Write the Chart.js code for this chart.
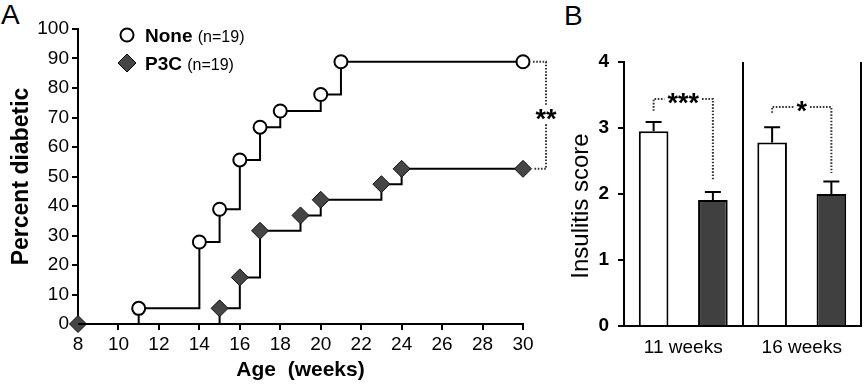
<!DOCTYPE html>
<html>
<head>
<meta charset="utf-8">
<script src="https://cdn.jsdelivr.net/npm/chart.js@4.4.0/dist/chart.umd.min.js"></script>
<style>
body { margin: 0; background: #fff; width: 864px; height: 384px; overflow: hidden; position: relative; font-family: "Liberation Sans", Arial, sans-serif; }
#wrapA { position: absolute; left: 0; top: 0; width: 560px; height: 384px; }
#wrapB { position: absolute; left: 560px; top: 0; width: 304px; height: 384px; }
.panel { position: absolute; font-size: 28px; line-height: 28px; color: #000; }
</style>
</head>
<body>
<div class="panel" style="left:1px;top:1px">A</div>
<div class="panel" style="left:564px;top:2px">B</div>
<div id="wrapA"><canvas id="chartA"></canvas></div>
<div id="wrapB"><canvas id="chartB"></canvas></div>
<script>
// panel A: percent diabetic by age
var weeksNone = [8, 11, 14, 15, 16, 17, 18, 20, 21, 30];
var pctNone = [0, 5.3, 27.8, 38.9, 55.6, 66.7, 72.2, 77.8, 88.9, 88.9];
var weeksP3C = [8, 15, 16, 17, 19, 20, 23, 24, 30];
var pctP3C = [0, 5.3, 15.8, 31.6, 36.8, 42.1, 47.4, 52.6, 52.6];

// panel B: insulitis score
var ageGroups = ['11 weeks', '16 weeks'];
var scoreNone = [2.95, 2.78];
var semNone = [0.14, 0.23];
var scoreP3C = [1.91, 2.0];
var semP3C = [0.12, 0.19];

var FONT = '"Liberation Sans", Arial, sans-serif';
Chart.defaults.font.family = FONT;
Chart.defaults.color = '#000';

function toPoints(xs, ys) {
	return xs.map(function(x, i) { return { x: x, y: ys[i] }; });
}

function dotted(ctx, pts) {
	ctx.save();
	ctx.strokeStyle = '#333';
	ctx.lineWidth = 2;
	ctx.setLineDash([1.6, 1.6]);
	ctx.beginPath();
	ctx.moveTo(pts[0][0], pts[0][1]);
	for (var i = 1; i < pts.length; i++) ctx.lineTo(pts[i][0], pts[i][1]);
	ctx.stroke();
	ctx.restore();
}

// legend + ** bracket for A
var extrasA = {
	id: 'extrasA',
	afterDraw: function(chart) {
		var ctx = chart.ctx;
		var x = chart.scales.x, y = chart.scales.y;
		ctx.save();
		// legend
		ctx.lineWidth = 2;
		ctx.strokeStyle = '#000';
		ctx.fillStyle = '#fff';
		ctx.beginPath();
		ctx.arc(127, 35, 6.5, 0, Math.PI * 2);
		ctx.fill();
		ctx.stroke();
		ctx.fillStyle = '#454545';
		ctx.lineWidth = 1;
		ctx.beginPath();
		ctx.moveTo(118, 63); ctx.lineTo(127, 54); ctx.lineTo(136, 63); ctx.lineTo(127, 72);
		ctx.closePath();
		ctx.fill();
		ctx.stroke();
		ctx.fillStyle = '#000';
		ctx.textBaseline = 'alphabetic';
		ctx.font = 'bold 19px ' + FONT;
		ctx.fillText('None', 145, 42);
		var w1 = ctx.measureText('None ').width;
		ctx.fillText('P3C', 145, 70);
		var w2 = ctx.measureText('P3C ').width;
		ctx.font = '16px ' + FONT;
		ctx.fillText('(n=19)', 145 + w1, 42);
		ctx.fillText('(n=19)', 145 + w2, 70);

		// significance bracket
		var px = x.getPixelForValue(30);
		var yTop = y.getPixelForValue(pctNone[pctNone.length - 1]);
		var yBot = y.getPixelForValue(pctP3C[pctP3C.length - 1]);
		var bx = px + 23;
		var mid = (yTop + yBot) / 2;
		dotted(ctx, [[px + 10, yTop], [bx, yTop], [bx, mid - 10]]);
		dotted(ctx, [[bx, mid + 9], [bx, yBot], [px + 10, yBot]]);
		ctx.font = 'bold 27px ' + FONT;
		ctx.textAlign = 'center';
		ctx.textBaseline = 'middle';
		ctx.fillText('**', bx, mid + 5);
		ctx.restore();
	}
};

var chartA = new Chart(document.getElementById('chartA'), {
	type: 'scatter',
	data: {
		datasets: [{
			label: 'None',
			data: toPoints(weeksNone, pctNone),
			showLine: true,
			stepped: true,
			borderColor: '#000',
			borderWidth: 2,
			pointStyle: 'circle',
			pointRadius: function(c) { return c.dataIndex === 0 ? 0 : 6.5; },
			pointBackgroundColor: '#fff',
			pointBorderColor: '#000',
			pointBorderWidth: 2,
			clip: false
		}, {
			label: 'P3C',
			data: toPoints(weeksP3C, pctP3C),
			showLine: true,
			stepped: true,
			borderColor: '#000',
			borderWidth: 2,
			pointStyle: 'rectRot',
			pointRadius: 8.5,
			pointBackgroundColor: '#454545',
			pointBorderColor: '#111',
			pointBorderWidth: 1,
			clip: false
		}]
	},
	options: {
		responsive: true,
		maintainAspectRatio: false,
		animation: false,
		layout: { padding: { left: 0, top: 29, right: 37, bottom: 0 } },
		plugins: { legend: { display: false }, tooltip: { enabled: false } },
		scales: {
			x: {
				type: 'linear', min: 8, max: 30,
				ticks: { stepSize: 2, font: { size: 19 }, padding: 3 },
				grid: { drawOnChartArea: false, color: '#000', lineWidth: 2, tickLength: 6 },
				border: { color: '#000', width: 2 },
				title: { display: true, text: 'Age  (weeks)', font: { size: 21, weight: 'bold' }, padding: { top: 0, bottom: 1 } },
				afterFit: function(s) { s.height = 60; }
			},
			y: {
				min: 0, max: 100,
				ticks: { stepSize: 10, font: { size: 19 }, padding: 3 },
				grid: { drawOnChartArea: false, color: '#000', lineWidth: 2, tickLength: 6 },
				border: { color: '#000', width: 2 },
				title: { display: true, text: 'Percent diabetic', font: { size: 23, weight: 'bold' }, padding: { top: 8, bottom: 0 } },
				afterFit: function(s) { s.width = 78; }
			}
		}
	},
	plugins: [extrasA]
});

// error bars, brackets and y title for B
var extrasB = {
	id: 'extrasB',
	afterDatasetsDraw: function(chart) {
		var ctx = chart.ctx;
		var y = chart.scales.y;
		var errs = [semNone, semP3C];
		ctx.save();
		ctx.strokeStyle = '#000';
		ctx.lineWidth = 2;
		chart.data.datasets.forEach(function(ds, d) {
			chart.getDatasetMeta(d).data.forEach(function(bar, i) {
				var top = y.getPixelForValue(ds.data[i] + errs[d][i]);
				ctx.beginPath();
				ctx.moveTo(bar.x, bar.y);
				ctx.lineTo(bar.x, top);
				ctx.moveTo(bar.x - 8, top);
				ctx.lineTo(bar.x + 8, top);
				ctx.stroke();
			});
		});

		// significance brackets
		var marks = ['***', '*'];
		var levels = [[3.26, 3.44, 2.21], [3.23, 3.32, 2.32]];
		var a = chart.getDatasetMeta(0).data, b = chart.getDatasetMeta(1).data;
		ctx.font = 'bold 27px ' + FONT;
		ctx.textAlign = 'center';
		ctx.textBaseline = 'middle';
		ctx.fillStyle = '#000';
		for (var i = 0; i < marks.length; i++) {
			var x1 = a[i].x, x2 = b[i].x, cx = (x1 + x2) / 2;
			var yl = y.getPixelForValue(levels[i][0]);
			var yt = y.getPixelForValue(levels[i][1]);
			var yr = y.getPixelForValue(levels[i][2]);
			var half = ctx.measureText(marks[i]).width / 2 + 3;
			dotted(ctx, [[x1, yl], [x1, yt], [cx - half, yt]]);
			dotted(ctx, [[cx + half, yt], [x2, yt], [x2, yr]]);
			ctx.fillText(marks[i], cx, yt + 6);
		}

		// y axis title, sits a little below the plot centre
		ctx.translate(21, 206);
		ctx.rotate(-Math.PI / 2);
		ctx.font = '24px ' + FONT;
		ctx.fillText('Insulitis score', 0, 0);
		ctx.restore();
	}
};

var chartB = new Chart(document.getElementById('chartB'), {
	type: 'bar',
	data: {
		labels: ageGroups,
		datasets: [{
			label: 'None',
			data: scoreNone,
			backgroundColor: '#fff',
			borderColor: '#000',
			borderWidth: 2,
			categoryPercentage: 1.0,
			barPercentage: 0.5
		}, {
			label: 'P3C',
			data: scoreP3C,
			backgroundColor: '#404040',
			borderColor: '#000',
			borderWidth: 2,
			categoryPercentage: 1.0,
			barPercentage: 0.5
		}]
	},
	options: {
		responsive: true,
		maintainAspectRatio: false,
		animation: false,
		layout: { padding: { left: 0, top: 62, right: 3, bottom: 0 } },
		plugins: { legend: { display: false }, tooltip: { enabled: false } },
		scales: {
			x: {
				ticks: { font: { size: 19 }, padding: 10 },
				grid: { offset: true, color: '#000', lineWidth: 2, drawTicks: false },
				border: { color: '#000', width: 2 },
				afterFit: function(s) { s.height = 58; }
			},
			y: {
				min: 0, max: 4,
				ticks: { stepSize: 1, font: { size: 19, weight: 'bold' }, padding: 9 },
				grid: { drawOnChartArea: false, color: '#000', lineWidth: 2, tickLength: 6 },
				border: { color: '#000', width: 2 },
				afterFit: function(s) { s.width = 64; }
			}
		}
	},
	plugins: [extrasB]
});
</script>
</body>
</html>
